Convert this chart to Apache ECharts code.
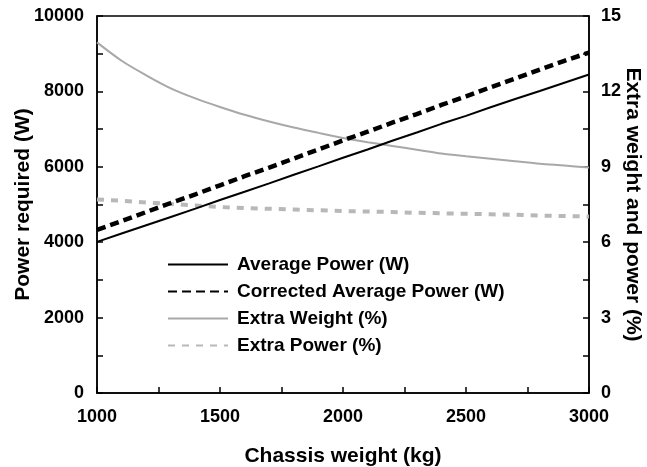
<!DOCTYPE html>
<html>
<head>
<meta charset="utf-8">
<script src="https://cdn.jsdelivr.net/npm/echarts@6/dist/echarts.min.js"></script>
<style>
html,body{margin:0;padding:0;background:#fff;}
#chart{width:647px;height:467px;}
</style>
</head>
<body>
<div id="chart"></div>
<script>
// Chassis weight (kg)
var chassisWeight = [1000,1100,1200,1300,1400,1500,1600,1700,1800,1900,2000,2100,2200,2300,2400,2500,2600,2700,2800,2900,3000];
// Average Power (W)
var averagePower = [4010,4230,4450,4670,4890,5120,5340,5560,5790,6010,6240,6460,6690,6910,7140,7350,7580,7800,8010,8230,8450];
// Corrected Average Power (W)
var correctedPower = [4330,4560,4800,5040,5270,5510,5750,5980,6220,6460,6700,6930,7170,7400,7640,7870,8110,8340,8580,8810,9030];
// Extra Weight (%)
var extraWeight = [13.95,13.22,12.64,12.12,11.72,11.38,11.07,10.8,10.56,10.35,10.15,9.98,9.83,9.68,9.53,9.42,9.32,9.22,9.12,9.05,8.97];
// Extra Power (%)
var extraPower = [7.7,7.65,7.58,7.52,7.46,7.4,7.36,7.33,7.3,7.27,7.24,7.22,7.2,7.17,7.15,7.13,7.11,7.09,7.06,7.04,7.02];

var seriesNames = ['Average Power (W)','Corrected Average Power (W)','Extra Weight (%)','Extra Power (%)'];

function pairs(ys){ return chassisWeight.map(function(x,i){ return [x, ys[i]]; }); }
function plain(v){ return String(v); }

var FONT = 'Liberation Sans, Arial, sans-serif';
var axisLabelStyle = {color:'#000', fontFamily:FONT, fontWeight:'bold', fontSize:18, formatter:plain};
var axisNameStyle = {color:'#000', fontFamily:FONT, fontWeight:'bold', fontSize:21};
var lineCol = '#000';

var chart = echarts.init(document.getElementById('chart'), null, {renderer:'canvas'});
chart.setOption({
  animation:false,
  backgroundColor:'#fff',
  grid:{left:97, right:58, top:16, bottom:74, outerBoundsMode:'none', containLabel:false, show:true, borderColor:'#000', borderWidth:1.5, backgroundColor:'transparent'},
  legend:{
    orient:'vertical', left:162, top:250,
    itemWidth:60, itemHeight:12, itemGap:8,
    data:seriesNames,
    itemStyle:{opacity:0, borderWidth:0},
    textStyle:{color:'#000', fontFamily:FONT, fontWeight:'bold', fontSize:19, padding:[0,0,0,4]}
  },
  xAxis:{
    type:'value', min:1000, max:3000, interval:500,
    name:'Chassis weight (kg)', nameLocation:'middle', nameGap:53, nameTextStyle:axisNameStyle,
    axisLine:{lineStyle:{color:lineCol, width:1.5}},
    axisTick:{inside:true, length:6, lineStyle:{color:lineCol, width:1.5}},
    minorTick:{show:true, splitNumber:2, length:6, lineStyle:{color:lineCol, width:1.5}},
    axisLabel:Object.assign({margin:15}, axisLabelStyle),
    splitLine:{show:false}
  },
  yAxis:[{
    type:'value', min:0, max:10000, interval:2000,
    name:'Power required (W)', nameLocation:'middle', nameGap:63, nameMoveOverlap:false, nameTextStyle:axisNameStyle,
    axisLine:{show:true, lineStyle:{color:lineCol, width:1.5}},
    axisTick:{show:true, inside:true, length:6, lineStyle:{color:lineCol, width:1.5}},
    minorTick:{show:true, splitNumber:2, length:6, lineStyle:{color:lineCol, width:1.5}},
    axisLabel:Object.assign({margin:13}, axisLabelStyle),
    splitLine:{show:false}
  },{
    type:'value', min:0, max:15, interval:3, position:'right',
    name:'Extra weight and power (%)', nameLocation:'middle', nameGap:33, nameMoveOverlap:false, nameRotate:-90, nameTextStyle:axisNameStyle,
    axisLine:{show:true, lineStyle:{color:lineCol, width:1.5}},
    axisTick:{show:true, inside:true, length:6, lineStyle:{color:lineCol, width:1.5}},
    minorTick:{show:true, splitNumber:2, length:6, lineStyle:{color:lineCol, width:1.5}},
    axisLabel:Object.assign({margin:12}, axisLabelStyle),
    splitLine:{show:false}
  }],
  series:[
    {name:seriesNames[2], type:'line', yAxisIndex:1, data:pairs(extraWeight), symbol:'none', smooth:0.3, color:'#a8a8a8', lineStyle:{color:'#a8a8a8', width:2}},
    {name:seriesNames[3], type:'line', yAxisIndex:1, data:pairs(extraPower), symbol:'none', color:'#b8b8b8', lineStyle:{color:'#b8b8b8', width:4, type:[7,7]}},
    {name:seriesNames[0], type:'line', yAxisIndex:0, data:pairs(averagePower), symbol:'none', color:'#000', lineStyle:{color:'#000', width:2}},
    {name:seriesNames[1], type:'line', yAxisIndex:0, data:pairs(correctedPower), symbol:'none', color:'#000', lineStyle:{color:'#000', width:4.5, type:[9,5]}}
  ]
});
</script>
</body>
</html>
